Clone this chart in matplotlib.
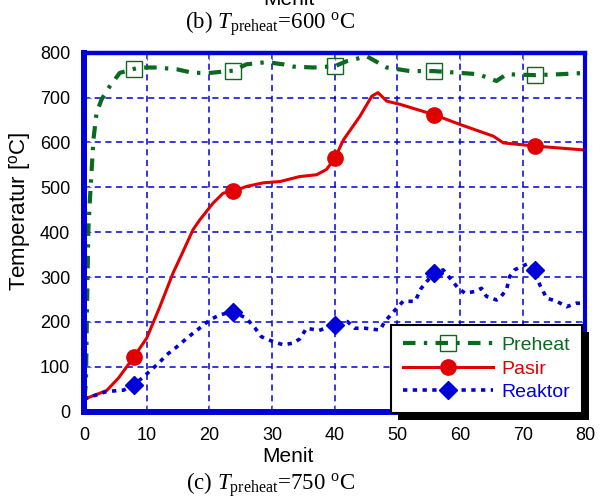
import matplotlib
matplotlib.use("Agg")
import matplotlib.pyplot as plt
from matplotlib.patches import Rectangle
from matplotlib.transforms import IdentityTransform

plt.rcParams['font.family'] = ['Liberation Sans', 'DejaVu Sans']
plt.rcParams['mathtext.fontset'] = 'custom'
plt.rcParams['mathtext.rm'] = 'Liberation Serif'
plt.rcParams['mathtext.it'] = 'Liberation Serif:italic'
plt.rcParams['mathtext.sf'] = 'Liberation Sans'

# time (menit) and temperature readings
t_pre = [0, 0.3, 0.5, 0.7, 1.0, 1.5, 2.0, 2.8, 4.1, 5.7, 8.0, 8.9, 11.6, 14.8, 17.4, 20.1,
         23.8, 25.9, 29.1, 31.8, 33.4, 36.6, 40.0, 41.9, 45.1, 48.3, 52.0, 55.8, 60.0,
         62.9, 65.8, 67.4, 71.9, 75.9, 80.0]
preheat = [30, 60, 250, 410, 487, 606, 666, 696, 725, 755, 764, 767, 767, 763, 755, 755,
           760, 774, 779, 774, 769, 767, 770, 781, 792, 767, 759, 759, 755,
           752, 737, 752, 750, 752, 755]

t_pas = [0, 0.4, 3.6, 5.5, 8.0, 10.0, 12.1, 14.2, 15.8, 17.4, 18.5, 20.6, 22.2, 23.8, 25.9,
         28.6, 31.3, 34.4, 37.1, 38.7, 40.0, 41.4, 44.0, 45.9, 46.9, 48.3, 50.4, 55.8, 60.0,
         65.3, 66.9, 71.9, 80.0]
pasir = [28, 30, 47, 75, 123, 164, 234, 309, 357, 406, 428, 465, 487, 491, 502,
         510, 513, 524, 528, 540, 565, 606, 658, 703, 711, 692, 685, 662, 640,
         614, 599, 592, 583]

t_rea = [0, 0.4, 3.6, 6.3, 8.0, 9.5, 11.9, 13.2, 14.5, 16.1, 17.4, 18.8, 20.1, 21.7, 23.8,
         25.9, 27.3, 28.3, 30.2, 31.8, 33.4, 34.4, 35.5, 37.5, 40.0, 42.0, 43.2, 44.8, 47.2,
         48.0, 49.9, 50.9, 52.8, 53.8, 55.8, 57.3, 58.6, 59.7, 60.8, 62.4, 63.4, 64.2, 65.8,
         66.3, 67.4, 67.9, 68.7, 69.8, 71.1, 71.9, 72.7, 73.8, 75.4, 77.0, 78.6, 80.0]
reaktor = [28, 30, 45, 48, 60, 78, 108, 127, 141, 160, 175, 190, 205, 216, 223,
           208, 186, 167, 156, 149, 153, 162, 186, 181, 194, 201, 186, 186, 182,
           201, 231, 246, 246, 275, 309, 316, 294, 275, 264, 268, 275, 257, 249,
           253, 272, 301, 316, 324, 331, 316, 283, 253, 246, 234, 242, 240]

# marker positions
t_marks = [8.0, 23.8, 40.0, 55.8, 71.9]

green = '#0b6a1f'
red = '#e00000'
blue = '#0000d8'

fig = plt.figure(figsize=(6.01, 5.0), dpi=100)
ax = fig.add_axes([0.1398, 0.1766, 0.8344, 0.718])

ax.plot(t_pre, preheat, color=green, lw=3, linestyle=(0, (3, 2, 0.8, 2)),
        marker='s', ms=11, mfc='none', mec=green, mew=1,
        markevery=[t_pre.index(m) for m in t_marks], label='Preheat')
ax.plot(t_pas, pasir, color=red, lw=2.2, marker='o', ms=11,
        markevery=[t_pas.index(m) for m in t_marks], label='Pasir')
ax.plot(t_rea, reaktor, color=blue, lw=2.6, linestyle=(0, (1.2, 1.5)),
        marker='D', ms=9, markevery=[t_rea.index(m) for m in t_marks], label='Reaktor')

ax.set_xlim(0, 80)
ax.set_ylim(0, 800)
ax.set_xticks(range(0, 81, 10))
ax.set_yticks(range(0, 801, 100))
ax.grid(True, color=blue, lw=1.1, linestyle=(0, (4, 3)))
ax.tick_params(direction='in', length=5, color='#6070e0', labelsize=13,
               top=True, right=True)
ax.tick_params(axis='y', pad=10)
ax.tick_params(axis='x', pad=11)
for side, w in [('left', 4.3), ('bottom', 4.3), ('top', 3.2), ('right', 3.0)]:
    ax.spines[side].set_color(blue)
    ax.spines[side].set_linewidth(w)

ax.set_xlabel('Menit', fontsize=15)
ax.xaxis.set_label_coords(0.406, -0.098)
ax.set_ylabel(r'Temperatur [$^{\mathsf{o}}$C]', fontsize=16)
ax.yaxis.set_label_coords(-0.104, 0.558)

leg = ax.legend(loc='lower left', bbox_to_anchor=(0.613, -0.003), fontsize=14,
                handlelength=4.6, handletextpad=0.45, labelspacing=0.3,
                borderpad=0.6, fancybox=False, framealpha=1, edgecolor='black',
                numpoints=1, labelcolor='linecolor', borderaxespad=0)
leg.get_frame().set_linewidth(1.5)
leg.set_zorder(6)

fig.text(0.48, 0.99, 'Menit', fontsize=15, ha='center', va='baseline')
fig.text(0.45, 0.942, r'(b) $\mathit{T}_{\mathrm{preheat}}$=600 $^{\mathrm{o}}$C',
         fontsize=16.5, ha='center', va='baseline', family='Liberation Serif')
fig.text(0.45, 0.02, r'(c) $\mathit{T}_{\mathrm{preheat}}$=750 $^{\mathrm{o}}$C',
         fontsize=16.5, ha='center', va='baseline', family='Liberation Serif')

# drop shadow behind the legend box
fig.canvas.draw()
bb = leg.get_window_extent()
shadow = Rectangle((bb.x0 + 7, bb.y0 - 7), bb.width, bb.height, transform=IdentityTransform(),
                   facecolor='black', edgecolor='none', clip_on=False, zorder=5.5)
ax.add_artist(shadow)

fig.savefig('out.png', dpi=100)
